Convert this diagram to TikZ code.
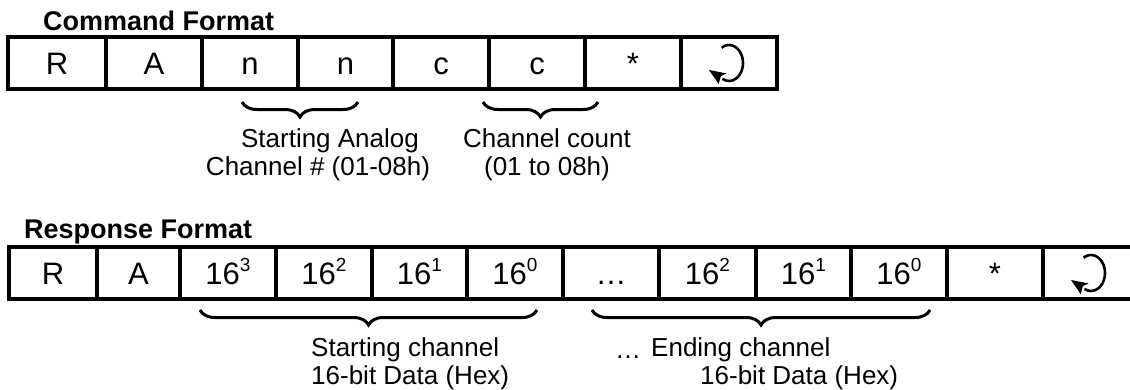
\documentclass[tikz,border=0pt]{standalone}
\usepackage{fontspec}
\setmainfont{Liberation Sans}
\usetikzlibrary{decorations.pathreplacing,arrows.meta}
\newcommand\cellfont{\fontsize{31}{36}\selectfont}
\newcommand\lblfont{\fontsize{26}{28}\selectfont}
\newcommand\ttlfont{\fontsize{27}{30}\selectfont\bfseries}
\newcommand\pw[1]{\raisebox{0.40em}{\fontsize{19}{19}\selectfont #1}}
% return symbol inside a cell: arc plus filled arrowhead
\newcommand\retsym[1]{%
  \draw[retline] ([shift={(122:14pt and 18pt)}]#1.center) arc[start angle=122,end angle=-118,x radius=14pt,y radius=18pt];
  \fill[black] ([shift={(-20,-7)}]#1.center) -- ([shift={(-2.4,-10.4)}]#1.center) -- ([shift={(-8,-13)}]#1.center) -- ([shift={(-10.4,-21)}]#1.center) -- cycle;}
\begin{document}
\begin{tikzpicture}[x=1pt,y=1pt,
  cellbox/.style={draw=black,line width=3.5pt,rectangle,inner sep=0pt,minimum height=52pt,font=\cellfont,text height=22pt,text depth=0pt},
  lbl/.style={inner sep=0pt,font=\lblfont},
  ttl/.style={inner sep=0pt,font=\ttlfont,anchor=west},
  bracepath/.style={line width=3pt,decorate,decoration={brace,mirror,amplitude=15pt}},
  retline/.style={line width=2.6pt}]
\useasboundingbox (0,0) rectangle (1130,-389);
\clip (0,0) rectangle (1130,-389);
% titles
\node[ttl] (t1) at (43,-21) {Command Format};
\node[ttl] (t2) at (24,-232) {Response Format};
% command row
\node[cellbox,minimum width=98pt] (c1) at (57,-63) {R};
\node[cellbox,minimum width=96pt] (c2) at (154,-63) {A};
\node[cellbox,minimum width=96pt] (c3) at (250,-63) {n};
\node[cellbox,minimum width=95pt] (c4) at (345.5,-63) {n};
\node[cellbox,minimum width=96pt] (c5) at (441,-63) {c};
\node[cellbox,minimum width=96pt] (c6) at (537,-63) {c};
\node[cellbox,minimum width=96pt] (c7) at (633,-63) {*};
\node[cellbox,minimum width=96pt] (c8) at (729,-63) {};
\retsym{c8}
% response row
\node[cellbox,minimum width=88pt] (r1) at (53,-273) {R};
\node[cellbox,minimum width=83pt] (r2) at (138.5,-273) {A};
\node[cellbox,minimum width=96pt] (r3) at (228,-273) {16\pw{3}};
\node[cellbox,minimum width=96pt] (r4) at (324,-273) {16\pw{2}};
\node[cellbox,minimum width=95pt] (r5) at (419.5,-273) {16\pw{1}};
\node[cellbox,minimum width=96pt] (r6) at (515,-273) {16\pw{0}};
\node[cellbox,minimum width=96pt] (r7) at (611,-273) {…};
\node[cellbox,minimum width=97pt] (r8) at (707.5,-273) {16\pw{2}};
\node[cellbox,minimum width=95pt] (r9) at (803.5,-273) {16\pw{1}};
\node[cellbox,minimum width=96pt] (r10) at (899,-273) {16\pw{0}};
\node[cellbox,minimum width=96pt] (r11) at (995,-273) {*};
\node[cellbox,minimum width=96pt] (r12) at (1091,-273) {};
\retsym{r12}
% braces
\coordinate (b1s) at (242,-102); \coordinate (b1e) at (358,-102);
\coordinate (b2s) at (483,-102); \coordinate (b2e) at (598,-102);
\coordinate (b3s) at (200,-310); \coordinate (b3e) at (537,-310);
\coordinate (b4s) at (592,-310); \coordinate (b4e) at (930,-310);
\draw[bracepath] (b1s) -- (b1e);
\draw[bracepath] (b2s) -- (b2e);
\draw[bracepath] (b3s) -- (b3e);
\draw[bracepath] (b4s) -- (b4e);
% labels
\node[lbl,align=center] (l1) at (318,-155) {\hspace{24pt}Starting Analog\\Channel \# (01-08h)};
\node[lbl,align=center] (l2) at (547,-155) {Channel count\\(01 to 08h)};
\node[lbl,align=left,anchor=west] (l3) at (311,-364) {Starting channel\\16-bit Data (Hex)};
\node[lbl,anchor=base] (l4) at (628,-358) {…};
\node[lbl,align=left,anchor=west] (l5) at (651,-364) {Ending channel\\\hspace{49pt}16-bit Data (Hex)};
\end{tikzpicture}
\end{document}
